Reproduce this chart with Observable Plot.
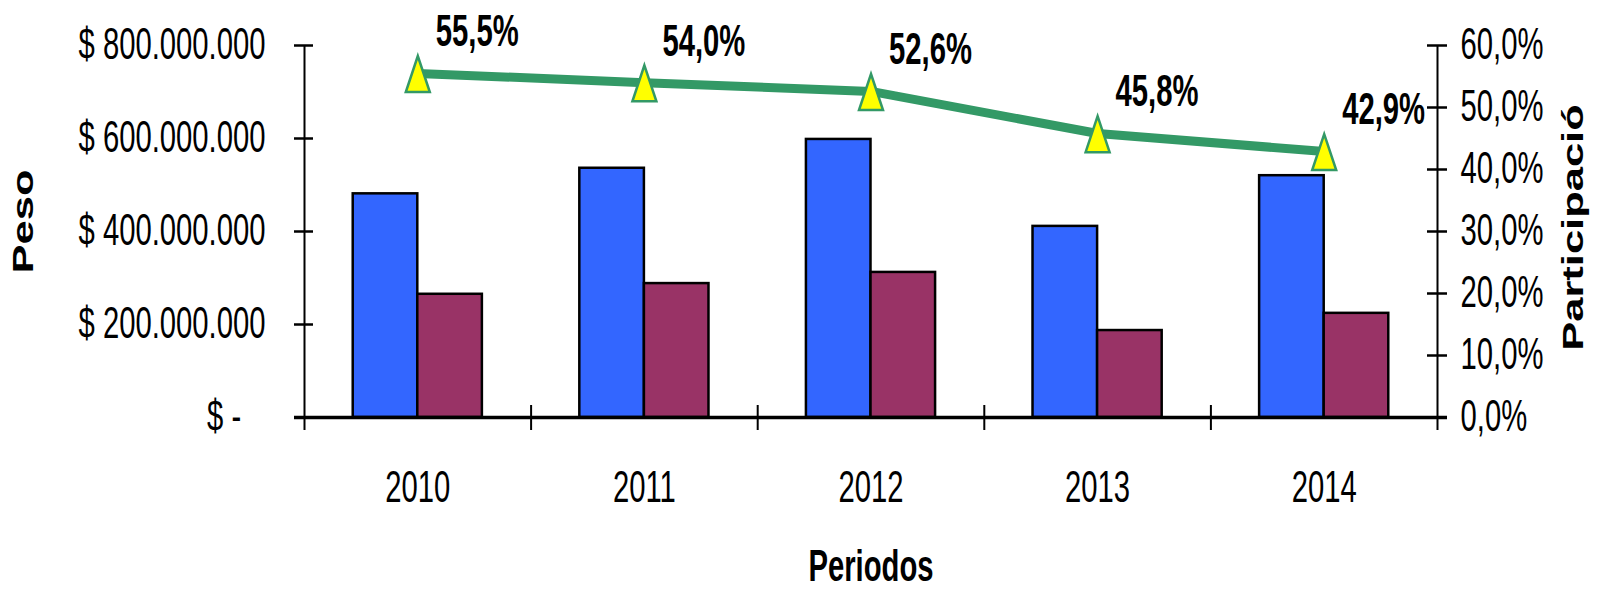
<!DOCTYPE html>
<html>
<head>
<meta charset="utf-8">
<script src="https://cdn.jsdelivr.net/npm/d3@7"></script>
<script src="https://cdn.jsdelivr.net/npm/@observablehq/plot@0.6"></script>
<style>
  html, body { margin: 0; padding: 0; background: #ffffff; }
  #chart { width: 1598px; height: 589px; }
</style>
</head>
<body>
<div id="chart"></div>
<script>
// ---- data ----
const years = [2010, 2011, 2012, 2013, 2014];
const peso = [481e6, 536e6, 598e6, 411e6, 520e6];          // blue bars
const pesoParte = [265e6, 288e6, 312e6, 187e6, 224e6];      // maroon bars
const participacion = [55.5, 54.0, 52.6, 45.8, 42.9];       // line (%)
const pesoTicks = [0, 200e6, 400e6, 600e6, 800e6];
const pctTicks = [0, 10, 20, 30, 40, 50, 60];

// ---- derived table ----
const data = years.map((year, i) => ({
  year, peso: peso[i], parte: pesoParte[i], pct: participacion[i]
}));
const yMax = pesoTicks[pesoTicks.length - 1];
const pctMax = pctTicks[pctTicks.length - 1];
const k = yMax / pctMax;                 // maps % onto the money scale (secondary axis)
const xLo = years[0] - 0.5, xHi = years[years.length - 1] + 0.5;
const bounds = years.slice(1).map(y => y - 0.5);
const barW = 0.285;

const fmtPeso = v => v === 0 ? "$ -\u00a0\u00a0\u00a0" : "$ " + d3.format(",")(v).replace(/,/g, ".");
const fmtPct = v => v.toFixed(1).replace(".", ",") + "%";

// tall triangle marker
const tallTriangle = {
  draw(ctx, size) {
    const r = Math.sqrt(size / Math.PI);
    ctx.moveTo(0, -1.45 * r);
    ctx.lineTo(r, 1.55 * r);
    ctx.lineTo(-r, 1.55 * r);
    ctx.closePath();
  }
};

const font = "'Liberation Sans', Arial, Helvetica, sans-serif";

const chart = Plot.plot({
  width: 1598,
  height: 589,
  marginLeft: 304,
  marginRight: 161,
  marginTop: 45,
  marginBottom: 172,
  style: { fontFamily: font, fontSize: "30px", background: "#ffffff", color: "#000000", overflow: "visible" },
  x: { type: "linear", domain: [xLo, xHi] },
  y: { domain: [0, yMax] },
  marks: [
    // bars
    Plot.rectY(data, { x1: d => d.year - barW, x2: "year", y: "peso", fill: "#3366FF", stroke: "#000000", strokeWidth: 2.5 }),
    Plot.rectY(data, { x1: "year", x2: d => d.year + barW, y: "parte", fill: "#993366", stroke: "#000000", strokeWidth: 2.5 }),
    // axis lines and ticks
    Plot.ruleX([xLo], { stroke: "#000000", strokeWidth: 2, insetBottom: -13 }),
    Plot.ruleX([xHi], { stroke: "#000000", strokeWidth: 2, insetBottom: -13 }),
    Plot.ruleY(pesoTicks, { y: d => d, x1: xLo, x2: xLo, insetLeft: -10, insetRight: -9, stroke: "#000000", strokeWidth: 2.5 }),
    Plot.ruleY(pctTicks, { y: d => d * k, x1: xHi, x2: xHi, insetLeft: -10, insetRight: -10, stroke: "#000000", strokeWidth: 2.5 }),
    Plot.ruleX(bounds, { x: d => d, y1: 0, y2: 0, insetTop: -12, insetBottom: -13, stroke: "#000000", strokeWidth: 2 }),
    Plot.ruleY([0], { stroke: "#000000", strokeWidth: 3.5, insetLeft: -10, insetRight: -10 }),
    // axes (labels only)
    Plot.axisY(pesoTicks, { anchor: "left", tickSize: 0, tickPadding: 39, tickFormat: fmtPeso, label: null, fontSize: 30 }),
    Plot.axisY(pctTicks.map(v => v * k), { anchor: "right", tickSize: 0, tickPadding: 23, tickFormat: v => fmtPct(v / k), label: null, fontSize: 30 }),
    Plot.axisX(years, { anchor: "bottom", tickSize: 0, tickPadding: 54, tickFormat: d => String(d), label: null, fontSize: 30 }),
    // participation line
    Plot.line(data, { x: "year", y: d => d.pct * k, stroke: "#339966", strokeWidth: 9 }),
    Plot.dot(data, { x: "year", y: d => d.pct * k, symbol: tallTriangle, r: 12, fill: "#FFFF00", stroke: "#339966", strokeWidth: 2.5 }),
    Plot.text(data, { x: "year", y: d => d.pct * k, text: d => fmtPct(d.pct), textAnchor: "start", lineAnchor: "middle", dx: 18, dy: -41, fontWeight: "bold", fontSize: 30 }),
    // axis titles
    Plot.text(["Peso"], { frameAnchor: "left", text: d => d, rotate: -90, textAnchor: "middle", lineAnchor: "middle", dx: -281, dy: -10, fontWeight: "bold", fontSize: 30 }),
    Plot.text(["Participació"], { frameAnchor: "right", text: d => d, rotate: -90, textAnchor: "middle", lineAnchor: "middle", dx: 136, dy: -4, fontWeight: "bold", fontSize: 30 }),
    Plot.text(["Periodos"], { frameAnchor: "bottom", text: d => d, textAnchor: "middle", lineAnchor: "middle", dy: 150, fontWeight: "bold", fontSize: 30 })
  ]
});

// The reference's lettering is tall and narrow: stretch each text about its anchor.
const SX = 0.975, SY = 1.45;
d3.select(chart).selectAll("text").each(function () {
  const t = this.getAttribute("transform") || "";
  const s = /rotate/.test(t) ? ` scale(${SY},${SX})` : ` scale(${SX},${SY})`;
  this.setAttribute("transform", t + s);
});

document.getElementById("chart").appendChild(chart);
</script>
</body>
</html>
